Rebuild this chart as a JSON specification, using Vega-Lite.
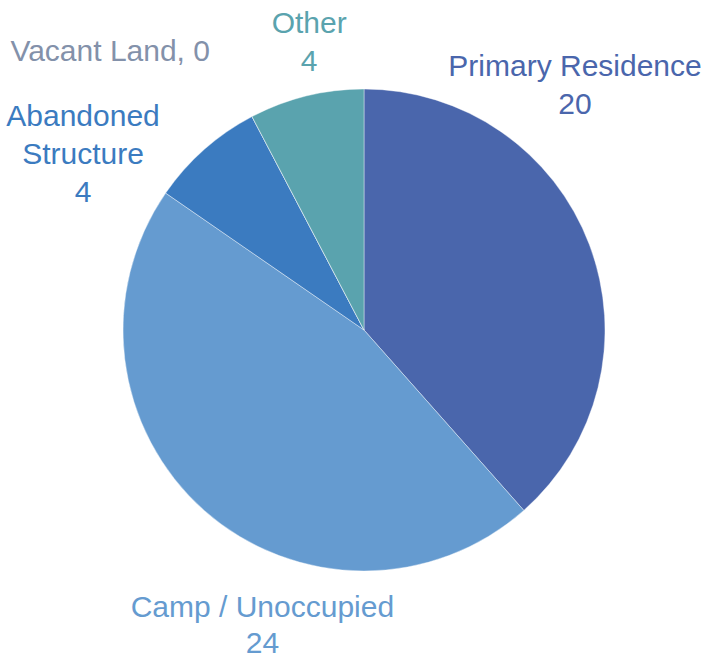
{
  "$schema": "https://vega.github.io/schema/vega-lite/v6.json",
  "width": 680,
  "height": 656,
  "autosize": {"type": "none"},
  "padding": {"left": 24, "top": 2, "right": 0, "bottom": 0},
  "background": "white",
  "view": {"stroke": null},
  "data": {
    "values": [
      {"idx": 1, "category": "Primary Residence", "value": 20},
      {"idx": 2, "category": "Camp / Unoccupied", "value": 24},
      {"idx": 3, "category": "Abandoned Structure", "value": 4},
      {"idx": 4, "category": "Vacant Land", "value": 0},
      {"idx": 5, "category": "Other", "value": 4}
    ]
  },
  "transform": [
    {"stack": "value", "groupby": [], "sort": [{"field": "idx", "order": "ascending"}], "as": ["v0", "v1"]}
  ],
  "encoding": {
    "color": {
      "field": "category",
      "type": "nominal",
      "legend": null,
      "scale": {
        "domain": ["Primary Residence", "Camp / Unoccupied", "Abandoned Structure", "Vacant Land", "Other"],
        "range": ["#4a66ac", "#659bd0", "#3b7bc0", "#8391aa", "#5aa3ae"]
      }
    }
  },
  "layer": [
    {
      "mark": {"type": "arc", "outerRadius": 241, "stroke": "#ffffff", "strokeWidth": 0.4},
      "encoding": {
        "theta": {"field": "value", "type": "quantitative", "stack": true, "scale": {"nice": false, "zero": true}},
        "order": {"field": "idx", "type": "quantitative", "sort": "ascending"}
      }
    },
    {
      "transform": [{"filter": "datum.category == 'Primary Residence'"}],
      "mark": {"type": "text", "radius": 260, "dx": 211, "dy": -3, "font": "Liberation Sans", "fontSize": 30, "lineHeight": 38, "align": "center", "baseline": "middle", "lineBreak": "\n"},
      "encoding": {"theta": {"field": "v0", "type": "quantitative", "stack": null}, "text": {"value": "Primary Residence\n20"}}
    },
    {
      "transform": [{"filter": "datum.category == 'Camp / Unoccupied'"}],
      "mark": {"type": "text", "radius": 260, "dx": -274, "dy": 83, "font": "Liberation Sans", "fontSize": 30, "lineHeight": 36, "align": "center", "baseline": "middle", "lineBreak": "\n"},
      "encoding": {"theta": {"field": "v0", "type": "quantitative", "stack": null}, "text": {"value": "Camp / Unoccupied\n24"}}
    },
    {
      "transform": [{"filter": "datum.category == 'Abandoned Structure'"}],
      "mark": {"type": "text", "radius": 260, "dx": -67, "dy": -65, "font": "Liberation Sans", "fontSize": 30, "lineHeight": 38, "align": "center", "baseline": "middle", "lineBreak": "\n"},
      "encoding": {"theta": {"field": "v0", "type": "quantitative", "stack": null}, "text": {"value": "Abandoned\nStructure\n4"}}
    },
    {
      "transform": [{"filter": "datum.category == 'Vacant Land'"}],
      "mark": {"type": "text", "radius": 260, "dx": -133, "dy": -48, "font": "Liberation Sans", "fontSize": 30, "align": "center", "baseline": "middle"},
      "encoding": {"theta": {"field": "v0", "type": "quantitative", "stack": null}, "text": {"value": "Vacant Land, 0"}}
    },
    {
      "transform": [{"filter": "datum.category == 'Other'"}],
      "mark": {"type": "text", "radius": 260, "dx": 66, "dy": -76, "font": "Liberation Sans", "fontSize": 30, "lineHeight": 38, "align": "center", "baseline": "middle", "lineBreak": "\n"},
      "encoding": {"theta": {"field": "v0", "type": "quantitative", "stack": null}, "text": {"value": "Other\n4"}}
    }
  ]
}
